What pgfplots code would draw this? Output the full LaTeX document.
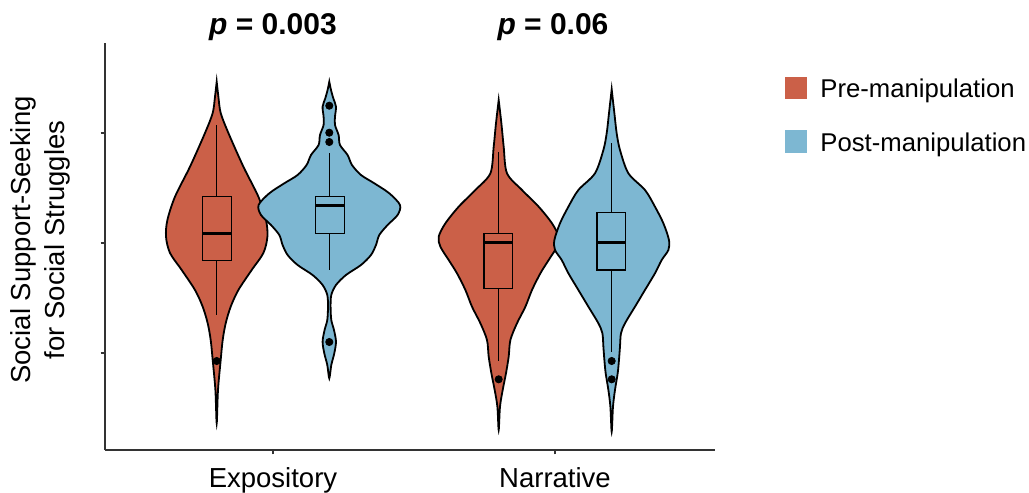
\documentclass[border=0pt]{standalone}
\usepackage{fontspec}
\setmainfont{Liberation Sans}
\usepackage{pgfplots}
\pgfplotsset{compat=1.18}
\definecolor{redc}{RGB}{203,96,72}
\definecolor{bluec}{RGB}{125,183,210}
\definecolor{axc}{RGB}{51,51,51}
\begin{document}
\begin{tikzpicture}
\useasboundingbox (-52.5bp,-21.5bp) rectangle (462bp,225bp);
\begin{axis}[
  scale only axis, width=305bp, height=203.5bp,
  xmin=105, xmax=715, ymin=0, ymax=407,
  clip=false,
  axis x line*=bottom, axis y line*=left,
  axis line style={axc, line width=1bp},
  xtick={273,555}, xticklabels={Expository,Narrative},
  ytick={97,207,317}, yticklabels={},
  tick align=outside, major tick length=2.2bp,
  tick style={axc, line width=0.8bp},
  xticklabel style={font=\fontsize{13.75bp}{16bp}\selectfont, yshift=-3bp},
]
% Expository pre
\addplot[fill=redc, draw=black, line width=0.9bp, smooth, tension=0.5] coordinates {
(216.7,368.3) (215.0,353.3) (212.7,337) (205.0,317) (190.0,283.3) (175.0,253.3) (167.4,230) (166.0,213.3) (170.0,197) (181.7,180) (195.0,160) (202.7,143.3) (207.7,126.7) (210.7,110) (212.7,90) (215.4,60) (216.7,26.7)
(218.0,60) (220.7,90) (222.7,110) (225.7,126.7) (230.7,143.3) (238.4,160) (251.7,180) (263.4,197) (267.4,213.3) (266.0,230) (258.4,253.3) (243.4,283.3) (228.4,317) (220.7,337) (218.4,353.3) (216.7,368.3)
} -- cycle;
% Expository post
\addplot[fill=bluec, draw=black, line width=0.9bp, smooth, tension=0.5] coordinates {
(329.3,368.3) (327.6,360) (325.3,351.7) (322.6,343.3) (323.6,333.3) (323.6,325) (320.0,315) (318.6,305) (311.0,295) (306.6,285) (297.6,275) (284.3,266.7) (269.3,256.7) (258.6,245) (261.0,235) (271.0,225) (279.3,215) (282.6,205) (287.6,195) (297.6,185) (312.6,175) (322.6,165) (327.3,155) (328.0,143.3) (327.3,130) (324.6,120) (322.6,108.3) (324.3,96.7) (327.3,85) (329.3,71.7)
(331.3,85) (334.3,96.7) (336.0,108.3) (334.0,120) (331.3,130) (330.6,143.3) (331.3,155) (336.0,165) (346.0,175) (361.0,185) (371.0,195) (376.0,205) (379.3,215) (387.6,225) (397.6,235) (400.0,245) (389.3,256.7) (374.3,266.7) (361.0,275) (352.0,285) (347.6,295) (340.0,305) (338.6,315) (335.0,325) (335.0,333.3) (336.0,343.3) (333.3,351.7) (331.0,360) (329.3,368.3)
} -- cycle;
% Narrative pre
\addplot[fill=redc, draw=black, line width=0.9bp, smooth, tension=0.5] coordinates {
(498.7,350) (496.0,326.7) (493.7,303.3) (490.4,276.7) (475.4,260) (458.7,243.3) (445.4,226.7) (438.7,213.3) (440.4,203.3) (448.7,190) (457.0,176.7) (465.4,160) (472.0,143.3) (480.4,126.7) (487.0,110) (488.7,93.3) (491.4,76.7) (494.7,60) (497.4,43.3) (498.7,20)
(500.0,43.3) (502.7,60) (506.0,76.7) (508.7,93.3) (510.4,110) (517.0,126.7) (525.4,143.3) (532.0,160) (540.4,176.7) (548.7,190) (557.0,203.3) (558.7,213.3) (552.0,226.7) (538.7,243.3) (522.0,260) (507.0,276.7) (503.7,303.3) (501.4,326.7) (498.7,350)
} -- cycle;
% Narrative post
\addplot[fill=bluec, draw=black, line width=0.9bp, smooth, tension=0.5] coordinates {
(611.7,360.7) (609.0,336.7) (606.7,316.7) (603.4,300) (595.0,276.7) (578.4,260) (568.4,243.3) (560.0,226.7) (554.4,210) (555.0,200) (561.7,190) (568.4,176.7) (578.4,160) (588.4,143.3) (598.4,126.7) (602.4,116.7) (603.4,103.3) (604.4,90) (605.7,76.7) (608.4,60) (610.4,43.3) (611.7,18.3)
(613.0,43.3) (615.0,60) (617.7,76.7) (619.0,90) (620.0,103.3) (621.0,116.7) (625.0,126.7) (635.0,143.3) (645.0,160) (655.0,176.7) (661.7,190) (668.4,200) (669.0,210) (663.4,226.7) (655.0,243.3) (645.0,260) (628.4,276.7) (620.0,300) (616.7,316.7) (614.4,336.7) (611.7,360.7)
} -- cycle;
% boxes
\addplot[draw=black, line width=0.75bp] coordinates {(202.7,189.3) (231.7,189.3) (231.7,253.3) (202.7,253.3)} -- cycle;
\addplot[draw=black, line width=0.75bp] coordinates {(216.7,253.3) (216.7,325)};
\addplot[draw=black, line width=0.75bp] coordinates {(216.7,189.3) (216.7,135)};
\addplot[draw=black, line width=1.6bp] coordinates {(202.7,216.7) (231.7,216.7)};
\addplot[draw=black, line width=0.75bp] coordinates {(315.3,216.7) (344.3,216.7) (344.3,253.3) (315.3,253.3)} -- cycle;
\addplot[draw=black, line width=0.75bp] coordinates {(329.3,253.3) (329.3,297.3)};
\addplot[draw=black, line width=0.75bp] coordinates {(329.3,216.7) (329.3,180)};
\addplot[draw=black, line width=1.6bp] coordinates {(315.3,244.3) (344.3,244.3)};
\addplot[draw=black, line width=0.75bp] coordinates {(484,161.7) (512.7,161.7) (512.7,216.7) (484,216.7)} -- cycle;
\addplot[draw=black, line width=0.75bp] coordinates {(498.7,216.7) (498.7,298.3)};
\addplot[draw=black, line width=0.75bp] coordinates {(498.7,161.7) (498.7,89.3)};
\addplot[draw=black, line width=1.6bp] coordinates {(484,207.7) (512.7,207.7)};
\addplot[draw=black, line width=0.75bp] coordinates {(597,180) (625.7,180) (625.7,237.3) (597,237.3)} -- cycle;
\addplot[draw=black, line width=0.75bp] coordinates {(611.7,237.3) (611.7,306.7)};
\addplot[draw=black, line width=0.75bp] coordinates {(611.7,180) (611.7,98.3)};
\addplot[draw=black, line width=1.6bp] coordinates {(597,207.7) (625.7,207.7)};
% outliers
\addplot[only marks, mark=*, mark size=1.8bp, black] coordinates {(216.7,89) (329.3,344.3) (329.3,317.3) (329.3,308) (329.3,108) (498.7,70.7) (611.7,89) (611.7,70.7)};
% p values
\node[anchor=base, font=\fontsize{15bp}{18bp}\selectfont\bfseries] at (axis cs:273,415) {\textit{p} = 0.003};
\node[anchor=base, font=\fontsize{15bp}{18bp}\selectfont\bfseries] at (axis cs:553,415) {\textit{p} = 0.06};
% y label
\node[rotate=90, align=center, font=\fontsize{13.75bp}{17bp}\selectfont] at (axis cs:40,210) {Social Support-Seeking\\for Social Struggles};
% legend
\fill[redc] (axis cs:785,351) rectangle (axis cs:807,373);
\fill[bluec] (axis cs:785,297) rectangle (axis cs:807,320);
\node[anchor=base west, inner sep=0pt, font=\fontsize{12.85bp}{16bp}\selectfont] at (axis cs:820,352) {Pre-manipulation};
\node[anchor=base west, inner sep=0pt, font=\fontsize{12.85bp}{16bp}\selectfont] at (axis cs:820,298) {Post-manipulation};
\end{axis}
\end{tikzpicture}
\end{document}
